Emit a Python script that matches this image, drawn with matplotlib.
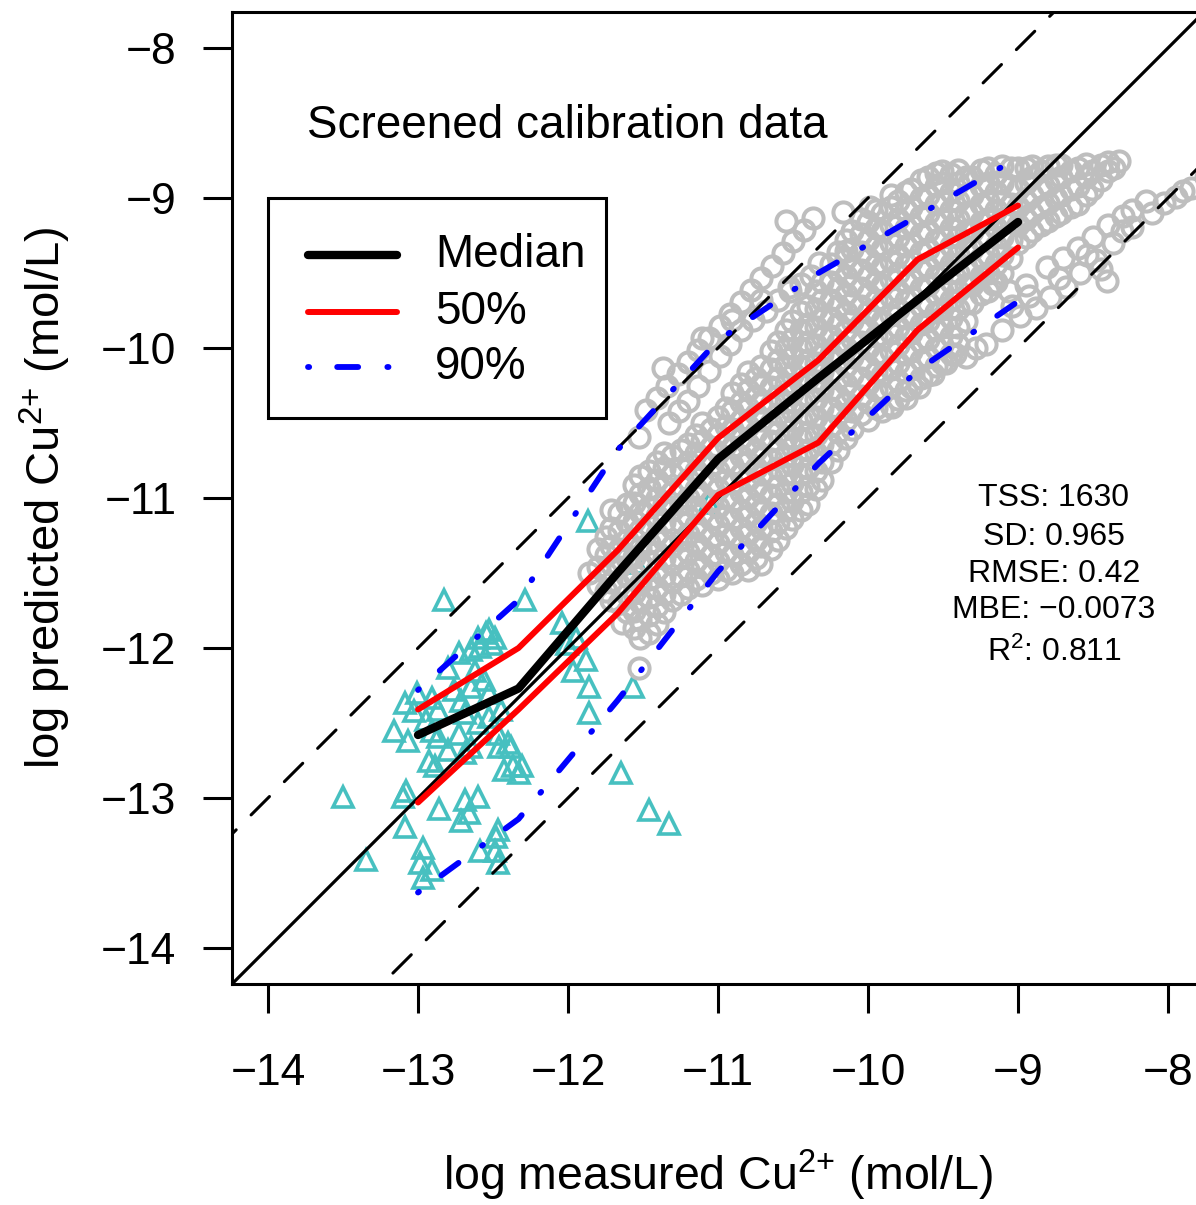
import numpy as np
import matplotlib
matplotlib.use("Agg")
import matplotlib.pyplot as plt
from matplotlib.lines import Line2D
from matplotlib.patches import Rectangle

plt.rcParams['font.family'] = ['Liberation Sans', 'DejaVu Sans']
plt.rcParams['mathtext.fontset'] = 'custom'
plt.rcParams['mathtext.rm'] = 'Liberation Sans'
plt.rcParams['mathtext.it'] = 'Liberation Sans:italic'

# binned prediction summaries
bin_x = [-13.0, -12.33, -11.67, -11.0, -10.33, -9.67, -9.0]
median = [-12.58, -12.27, -11.50, -10.74, -10.20, -9.68, -9.16]
p50_hi = [-12.41, -12.00, -11.35, -10.60, -10.08, -9.41, -9.05]
p50_lo = [-13.03, -12.41, -11.77, -10.98, -10.63, -9.88, -9.33]
p90_hi = [-12.28, -11.68, -10.68, -9.95, -9.50, -9.12, -8.73]
p90_lo = [-13.63, -13.14, -12.35, -11.49, -10.77, -10.15, -9.69]

# screened calibration data (grey circles), read column by column
gray_columns = [
    (-11.80, [-11.58, -11.46, -11.34]),
    (-11.75, [-11.62, -11.50, -11.38, -11.26]),
    (-11.71, [-11.68, -11.56, -11.44, -11.32, -11.20, -11.08]),
    (-11.66, [-11.70, -11.58, -11.46, -11.34, -11.22, -11.10]),
    (-11.61, [-11.76, -11.64, -11.52, -11.40, -11.28, -11.16, -11.04]),
    (-11.56, [-11.87, -11.75, -11.63, -11.51, -11.39, -11.27, -11.15, -11.03, -10.91]),
    (-11.52, [-11.93, -11.81, -11.69, -11.57, -11.45, -11.33, -11.21, -11.09, -10.97, -10.85]),
    (-11.46, [-11.90, -11.78, -11.66, -11.54, -11.42, -11.30, -11.18, -11.06, -10.94, -10.82]),
    (-11.41, [-11.84, -11.72, -11.60, -11.48, -11.36, -11.24, -11.12, -11.00, -10.88, -10.76]),
    (-11.36, [-11.76, -11.64, -11.52, -11.40, -11.28, -11.16, -11.04, -10.92, -10.80, -10.70]),
    (-11.31, [-11.68, -11.56, -11.44, -11.32, -11.20, -11.08, -10.96, -10.84, -10.72]),
    (-11.25, [-11.64, -11.52, -11.40, -11.28, -11.16, -11.04, -10.92, -10.80, -10.68]),
    (-11.20, [-11.60, -11.48, -11.36, -11.24, -11.12, -11.00, -10.88, -10.76, -10.64]),
    (-11.15, [-11.54, -11.42, -11.30, -11.18, -11.06, -10.94, -10.82, -10.70, -10.58]),
    (-11.11, [-11.58, -11.46, -11.34, -11.22, -11.10, -10.98, -10.86, -10.74, -10.62, -10.50]),
    (-11.05, [-11.50, -11.38, -11.26, -11.14, -11.02, -10.90, -10.78, -10.66, -10.54]),
    (-11.00, [-11.54, -11.42, -11.30, -11.18, -11.06, -10.94, -10.82, -10.70, -10.58, -10.46]),
    (-10.95, [-11.48, -11.36, -11.24, -11.12, -11.00, -10.88, -10.76, -10.64, -10.52, -10.40]),
    (-10.91, [-11.50, -11.38, -11.26, -11.14, -11.02, -10.90, -10.78, -10.66, -10.54, -10.42, -10.30]),
    (-10.85, [-11.44, -11.32, -11.20, -11.08, -10.96, -10.84, -10.72, -10.60, -10.48, -10.36, -10.24]),
    (-10.80, [-11.48, -11.36, -11.24, -11.12, -11.00, -10.88, -10.76, -10.64, -10.52, -10.40, -10.28, -10.16]),
    (-10.75, [-11.40, -11.28, -11.16, -11.04, -10.92, -10.80, -10.68, -10.56, -10.44, -10.32, -10.20]),
    (-10.71, [-11.44, -11.32, -11.20, -11.08, -10.96, -10.84, -10.72, -10.60, -10.48, -10.36, -10.24, -10.12]),
    (-10.65, [-11.34, -11.22, -11.10, -10.98, -10.86, -10.74, -10.62, -10.50, -10.38, -10.26, -10.14, -10.02]),
    (-10.60, [-11.28, -11.16, -11.04, -10.92, -10.80, -10.68, -10.56, -10.44, -10.32, -10.20, -10.08, -9.96]),
    (-10.55, [-11.20, -11.08, -10.96, -10.84, -10.72, -10.60, -10.48, -10.36, -10.24, -10.12, -10.00, -9.88]),
    (-10.51, [-11.14, -11.02, -10.90, -10.78, -10.66, -10.54, -10.42, -10.30, -10.18, -10.06, -9.94, -9.82]),
    (-10.45, [-11.08, -10.96, -10.84, -10.72, -10.60, -10.48, -10.36, -10.24, -10.12, -10.00, -9.88, -9.76]),
    (-10.40, [-11.04, -10.92, -10.80, -10.68, -10.56, -10.44, -10.32, -10.20, -10.08, -9.96, -9.84, -9.72]),
    (-10.35, [-10.94, -10.82, -10.70, -10.58, -10.46, -10.34, -10.22, -10.10, -9.98, -9.86, -9.74, -9.62]),
    (-10.31, [-10.88, -10.76, -10.64, -10.52, -10.40, -10.28, -10.16, -10.04, -9.92, -9.80, -9.68, -9.56]),
    (-10.25, [-10.76, -10.64, -10.52, -10.40, -10.28, -10.16, -10.04, -9.92, -9.80, -9.68, -9.56, -9.44]),
    (-10.20, [-10.68, -10.56, -10.44, -10.32, -10.20, -10.08, -9.96, -9.84, -9.72, -9.60, -9.48, -9.36]),
    (-10.15, [-10.60, -10.48, -10.36, -10.24, -10.12, -10.00, -9.88, -9.76, -9.64, -9.52, -9.40, -9.28]),
    (-10.11, [-10.54, -10.42, -10.30, -10.18, -10.06, -9.94, -9.82, -9.70, -9.58, -9.46, -9.34, -9.22]),
    (-10.05, [-10.44, -10.32, -10.20, -10.08, -9.96, -9.84, -9.72, -9.60, -9.48, -9.36, -9.24, -9.14]),
    (-10.00, [-10.48, -10.36, -10.24, -10.12, -10.00, -9.88, -9.76, -9.64, -9.52, -9.40, -9.28, -9.16]),
    (-9.95, [-10.40, -10.28, -10.16, -10.04, -9.92, -9.80, -9.68, -9.56, -9.44, -9.32, -9.20, -9.08]),
    (-9.91, [-10.42, -10.30, -10.18, -10.06, -9.94, -9.82, -9.70, -9.58, -9.46, -9.34, -9.22, -9.10]),
    (-9.85, [-10.38, -10.26, -10.14, -10.02, -9.90, -9.78, -9.66, -9.54, -9.42, -9.30, -9.18, -9.06, -8.98]),
    (-9.80, [-10.34, -10.22, -10.10, -9.98, -9.86, -9.74, -9.62, -9.50, -9.38, -9.26, -9.14, -9.02]),
    (-9.75, [-10.28, -10.16, -10.04, -9.92, -9.80, -9.68, -9.56, -9.44, -9.32, -9.20, -9.08, -8.96]),
    (-9.71, [-10.26, -10.14, -10.02, -9.90, -9.78, -9.66, -9.54, -9.42, -9.30, -9.18, -9.06, -8.94]),
    (-9.65, [-10.20, -10.08, -9.96, -9.84, -9.72, -9.60, -9.48, -9.36, -9.24, -9.12, -9.00, -8.88]),
    (-9.60, [-10.18, -10.06, -9.94, -9.82, -9.70, -9.58, -9.46, -9.34, -9.22, -9.10, -8.98, -8.86]),
    (-9.55, [-10.12, -10.00, -9.88, -9.76, -9.64, -9.52, -9.40, -9.28, -9.16, -9.04, -8.92, -8.83]),
    (-9.51, [-10.10, -9.98, -9.86, -9.74, -9.62, -9.50, -9.38, -9.26, -9.14, -9.02, -8.90, -8.82]),
    (-9.45, [-10.04, -9.92, -9.80, -9.68, -9.56, -9.44, -9.32, -9.20, -9.08, -8.96, -8.84]),
    (-9.40, [-9.98, -9.86, -9.74, -9.62, -9.50, -9.38, -9.26, -9.14, -9.02, -8.90, -8.81]),
    (-9.35, [-9.82, -9.70, -9.58, -9.46, -9.34, -9.22, -9.10, -8.98, -8.86]),
    (-9.31, [-9.70, -9.58, -9.46, -9.34, -9.22, -9.10, -8.98, -8.86]),
    (-9.25, [-9.64, -9.52, -9.40, -9.28, -9.16, -9.04, -8.92, -8.81]),
    (-9.20, [-9.62, -9.50, -9.38, -9.26, -9.14, -9.02, -8.90, -8.80]),
    (-9.15, [-9.56, -9.44, -9.32, -9.20, -9.08, -8.96, -8.84]),
    (-9.11, [-9.50, -9.38, -9.26, -9.14, -9.02, -8.90, -8.79]),
    (-9.05, [-9.40, -9.28, -9.16, -9.04, -8.92, -8.80]),
    (-9.00, [-9.30, -9.18, -9.06, -8.94, -8.80]),
    (-8.95, [-9.26, -9.14, -9.02, -8.90, -8.80]),
    (-8.91, [-9.22, -9.10, -8.98, -8.86, -8.79]),
    (-8.85, [-9.18, -9.06, -8.94, -8.82]),
    (-8.80, [-9.15, -9.03, -8.91, -8.79]),
    (-8.75, [-9.12, -9.00, -8.88, -8.78]),
    (-8.71, [-9.10, -8.98, -8.86, -8.78]),
    (-8.65, [-9.06, -8.94, -8.82]),
    (-8.60, [-9.04, -8.92, -8.80]),
    (-8.55, [-8.98, -8.86, -8.77]),
    (-8.51, [-8.94, -8.82]),
    (-8.45, [-8.88, -8.78]),
    (-8.40, [-8.82, -8.76]),
    (-8.36, [-8.80]),
    (-8.33, [-8.75]),
]

# loose chains of grey circles outside the dense band
gray_extra = [
    # upper chain along the +1 line
    (-11.48, -10.41), (-11.41, -10.33), (-11.34, -10.25), (-11.27, -10.17), (-11.20, -10.09),
    (-11.13, -10.01), (-11.06, -9.93), (-10.99, -9.85), (-10.92, -9.77), (-10.85, -9.69),
    (-10.78, -9.61), (-10.71, -9.53), (-10.64, -9.45), (-10.57, -9.37), (-10.50, -9.29),
    (-10.43, -9.21), (-10.37, -9.13), (-10.55, -9.15), (-10.17, -9.09), (-9.99, -9.06),
    # second chain
    (-11.37, -10.13), (-11.11, -9.93), (-10.91, -9.81), (-10.71, -9.68), (-10.53, -9.59),
    (-10.33, -9.43), (-10.15, -9.35),
    # third chain
    (-11.33, -10.50), (-11.26, -10.42), (-11.20, -10.35), (-11.13, -10.25), (-11.06, -10.15),
    (-10.99, -10.05), (-10.92, -9.97), (-10.85, -9.88), (-10.77, -9.81), (-10.68, -9.75),
    (-10.60, -9.68), (-10.52, -9.62), (-10.45, -9.57), (-10.38, -9.52),
    # lower-left stragglers
    (-11.53, -12.13), (-11.64, -11.83), (-11.86, -11.50), (-11.53, -10.59), (-11.46, -10.93),
    # lower streak along the -1 line
    (-9.84, -10.39), (-9.75, -10.33), (-9.66, -10.26), (-9.57, -10.17), (-9.48, -10.10),
    (-9.35, -10.06), (-9.28, -10.00), (-9.21, -9.97), (-9.11, -9.88), (-8.99, -9.79),
    (-8.88, -9.73), (-8.79, -9.66), (-8.68, -9.59), (-8.59, -9.50), (-8.48, -9.41),
    (-8.37, -9.30), (-8.24, -9.19), (-8.11, -9.10), (-7.95, -8.99), (-7.85, -8.93),
    (-7.75, -8.86), (-9.17, -9.57), (-9.06, -9.62), (-8.95, -9.58),
    (-8.81, -9.46), (-8.70, -9.40), (-8.60, -9.33), (-8.50, -9.26), (-8.40, -9.18),
    (-8.30, -9.12), (-8.24, -9.08), (-8.15, -9.02), (-8.41, -9.55), (-8.45, -9.47),
    (-9.42, -10.04), (-9.04, -9.72), (-8.93, -9.65), (-8.73, -9.53), (-8.54, -9.38),
    (-8.31, -9.22), (-8.03, -9.03), (-7.90, -8.95),
]

# cyan triangles
tri_pts = [
    (-12.83, -11.68), (-13.50, -12.99), (-13.35, -13.41), (-13.16, -12.55), (-13.10, -12.99),
    (-13.09, -13.19), (-13.09, -12.37), (-12.97, -13.33), (-12.99, -13.43), (-12.97, -13.53),
    (-12.91, -13.48), (-12.93, -12.75), (-12.89, -12.79), (-12.86, -13.07), (-12.69, -13.01),
    (-12.66, -13.10), (-12.60, -12.99), (-12.71, -13.15), (-12.47, -13.21), (-12.49, -13.35),
    (-12.47, -13.43), (-12.43, -12.81), (-12.40, -12.63), (-12.33, -12.83), (-12.29, -11.68),
    (-13.03, -12.42), (-13.01, -12.30), (-12.91, -12.33), (-12.87, -12.41), (-12.91, -12.55),
    (-12.87, -12.59), (-12.80, -12.13), (-12.73, -12.03), (-12.65, -12.01), (-12.60, -11.93),
    (-12.53, -11.88), (-12.49, -11.93), (-12.56, -12.21), (-12.65, -12.26), (-12.71, -12.35),
    (-12.53, -12.30), (-12.69, -12.43), (-12.60, -12.50), (-12.53, -12.46), (-12.45, -12.41),
    (-12.47, -12.57), (-12.73, -12.57), (-12.80, -12.68), (-12.69, -12.70), (-12.65, -12.66),
    (-12.38, -12.66), (-12.55, -11.90), (-12.59, -11.99), (-12.51, -11.97), (-12.04, -11.83),
    (-11.95, -11.93), (-12.01, -11.97), (-11.86, -12.26), (-11.97, -12.15), (-11.88, -12.08),
    (-11.57, -12.26), (-11.86, -12.43), (-11.65, -12.83), (-11.46, -13.08), (-11.33, -13.17),
    (-12.46, -12.66), (-12.37, -12.79), (-12.31, -12.79), (-12.48, -13.26), (-12.59, -13.35),
    (-13.08, -12.95), (-13.07, -12.62), (-11.87, -11.15), (-11.06, -11.03), (-11.55, -11.43),
    (-12.95, -12.48), (-12.76, -12.28), (-12.62, -12.15),
]

stats_lines = ['TSS: 1630', 'SD: 0.965', 'RMSE: 0.42', 'MBE: \u22120.0073', 'R$^2$: 0.811']
stats_y = [-11.00, -11.26, -11.51, -11.75, -12.03]
legend_labels = ['Median', '50%', '90%']

gx = [x for x, ys in gray_columns for _ in ys] + [p[0] for p in gray_extra]
gy = [y for _, ys in gray_columns for y in ys] + [p[1] for p in gray_extra]
tx = [p[0] for p in tri_pts]
ty = [p[1] for p in tri_pts]

fig = plt.figure(figsize=(11.96, 12.05), dpi=100)
ax = fig.add_axes([232 / 1196, 1 - 984 / 1205, 972 / 1196, 972 / 1205])
ax.set_xlim(-14.24, -7.76)
ax.set_ylim(-14.24, -7.76)

ax.plot(tx, ty, linestyle='none', marker='^', markersize=15, markerfacecolor='none',
        markeredgecolor='#47C0C0', markeredgewidth=2.6, zorder=2)
ax.plot(gx, gy, linestyle='none', marker='o', markersize=14.5, markerfacecolor='none',
        markeredgecolor='#BEBEBE', markeredgewidth=2.9, zorder=3)

ref = np.array([-15.0, -7.0])
ax.plot(ref, ref, color='black', lw=2.3, zorder=4)
ax.plot(ref, ref + 1, color='black', lw=2.2, dashes=(8.5, 6.9), dash_capstyle='round', zorder=4)
ax.plot(ref, ref - 1, color='black', lw=2.2, dashes=(8.5, 6.9), dash_capstyle='round', zorder=4)

med_style = dict(color='black', lw=6.0, solid_capstyle='round', solid_joinstyle='round')
p50_style = dict(color='#FF0000', lw=4.3, solid_capstyle='round', solid_joinstyle='round')
p90_style = dict(color='#0000FF', lw=4.2, dashes=(0.2, 4.8, 3.6, 5.0), dash_capstyle='round')

ax.plot(bin_x, p90_hi, zorder=5, **p90_style)
ax.plot(bin_x, p90_lo, zorder=5, **p90_style)
ax.plot(bin_x, p50_hi, zorder=6, **p50_style)
ax.plot(bin_x, p50_lo, zorder=6, **p50_style)
ax.plot(bin_x, median, zorder=7, **med_style)

ax.set_xticks([-14, -13, -12, -11, -10, -9, -8])
ax.set_yticks([-14, -13, -12, -11, -10, -9, -8])
ax.tick_params(axis='both', direction='out', length=21, width=2.2, labelsize=32)
ax.tick_params(axis='y', pad=19)
ax.tick_params(axis='x', pad=29)
for s in ax.spines.values():
    s.set_linewidth(2.2)

ax.text(-13.74, -8.52, 'Screened calibration data', fontsize=33, ha='left', va='center')
for line, yy in zip(stats_lines, stats_y):
    ax.text(-8.76, yy, line, fontsize=23, ha='center', va='center', zorder=8)

# legend box drawn in axes fraction
ax.add_patch(Rectangle((0.037, 0.5823), 0.3478, 0.2263, transform=ax.transAxes,
                       facecolor='white', edgecolor='black', lw=2.2, zorder=10))
for style, yy, lab in zip([med_style, p50_style, p90_style], [0.750, 0.6914, 0.6348], legend_labels):
    ax.add_line(Line2D([0.0782, 0.1698], [yy, yy], transform=ax.transAxes, zorder=11, **style))
    ax.text(0.2088, yy, lab, transform=ax.transAxes, fontsize=33, ha='left', va='center', zorder=11)

fig.text(718 / 1196, 1 - 1175 / 1205, 'log measured Cu$^{2{+}}$ (mol/L)', fontsize=33.5,
         ha='center', va='center')
fig.text(45 / 1196, 1 - 498 / 1205, 'log predicted Cu$^{2{+}}$ (mol/L)', fontsize=34,
         ha='center', va='center', rotation=90)

fig.savefig('out.png', dpi=100)
